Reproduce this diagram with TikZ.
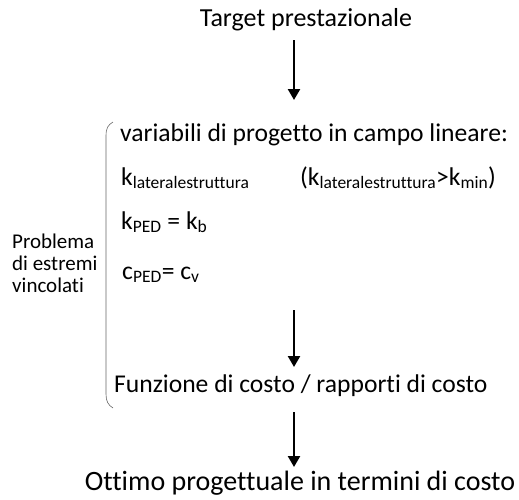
\documentclass[tikz,border=0pt]{standalone}
\usepackage{fontspec}
\setmainfont[Ligatures=NoCommon]{Carlito}
\usetikzlibrary{arrows.meta}
\tikzset{
  txt/.style={anchor=base west, inner sep=0pt, font=\fontsize{25.6}{30}\selectfont},
  ctxt/.style={anchor=base, inner sep=0pt, font=\fontsize{26}{30}\selectfont},
  small/.style={anchor=base west, inner sep=0pt, font=\fontsize{21}{24}\selectfont},
  bigarrow/.style={line width=2.4pt, -{Triangle[width=12pt,length=11pt]}},
  brace/.style={draw=black!60, line width=0.6pt}
}
\newcommand{\sbx}[1]{\textsubscript{\fontsize{17.5}{18}\selectfont #1}}
\begin{document}
\begin{tikzpicture}[x=1pt,y=-1pt]
\useasboundingbox (0,0) rectangle (519,499);
\node[ctxt] (target) at (306,26) {Target prestazionale};
\coordinate (a1s) at (294,40);
\coordinate (a1e) at (294,100);
\draw[bigarrow] (a1s) -- (a1e);

\draw[brace] (113,122) .. controls (108,125) and (106,128) .. (106,136) -- (106,394) .. controls (106,401) and (108,405) .. (113,408);

\node[txt] (var) at (120,141) {variabili di progetto in campo lineare:};
\node[txt] (klat) at (121,185) {k\sbx{lateralestruttura}};
\node[txt] (kcond) at (300,185) {(k\sbx{lateralestruttura}>k\sbx{min})};
\node[txt] (kped) at (121,229) {k\sbx{PED} = k\sbx{b}};
\node[txt] (cped) at (122,279) {c\sbx{PED}= c\sbx{v}};

\node[small] (prob) at (12,248) {Problema};
\node[small] (estr) at (12,270) {di estremi};
\node[small] (vinc) at (12,292) {vincolati};

\coordinate (a2s) at (294,310);
\coordinate (a2e) at (294,367);
\draw[bigarrow] (a2s) -- (a2e);

\node[txt] (funz) at (114,392) {Funzione di costo / rapporti di costo};

\coordinate (a3s) at (294,412);
\coordinate (a3e) at (294,467);
\draw[bigarrow] (a3s) -- (a3e);

\node[ctxt] (ott) at (300,490) {\fontsize{28}{30}\selectfont Ottimo progettuale in termini di costo};
\end{tikzpicture}
\end{document}
